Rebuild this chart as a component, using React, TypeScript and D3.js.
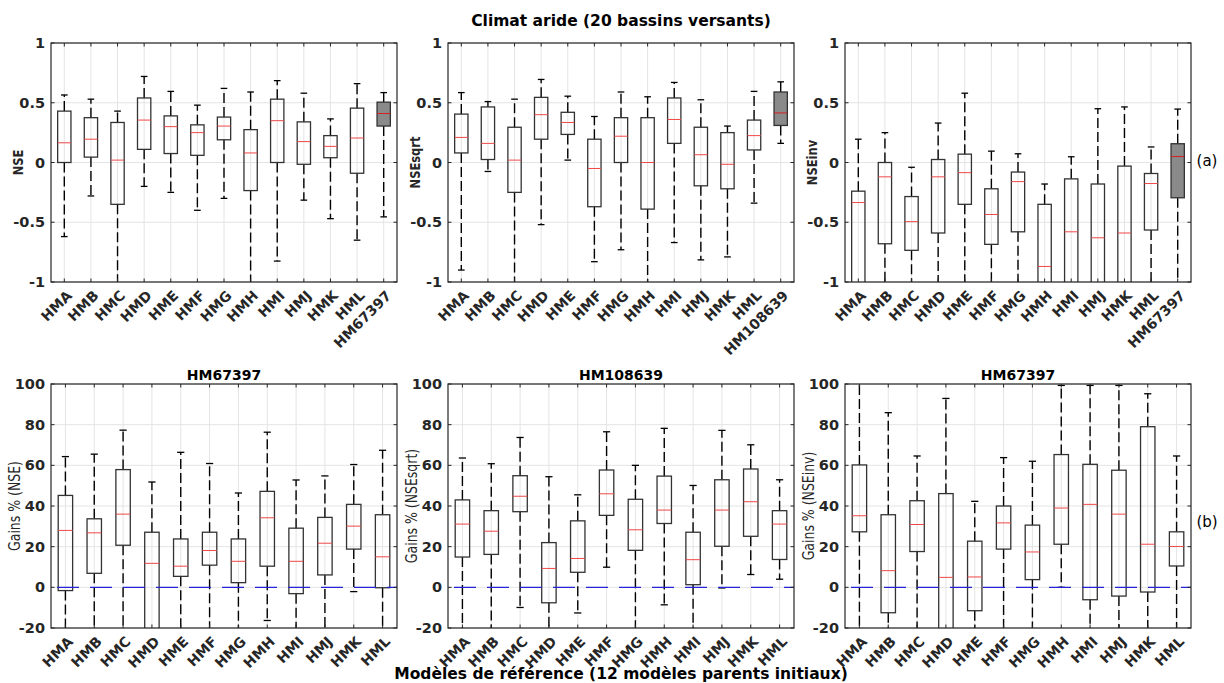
import React from 'react';
import * as d3 from 'd3';

// five-number summaries: [lower whisker, q1, median, q3, upper whisker]
// values outside the axis range are clipped by the panel (they run past the frame in the original)
type Stat = [number, number, number, number, number];

const refModels = ['HMA', 'HMB', 'HMC', 'HMD', 'HME', 'HMF', 'HMG', 'HMH', 'HMI', 'HMJ', 'HMK', 'HML'];
const catsNse = [...refModels, 'HM67397'];
const catsSqrt = [...refModels, 'HM108639'];
const catsInv = [...refModels, 'HM67397'];

const nseStats: Stat[] = [
    [-0.62, 0.0, 0.165, 0.43, 0.565],
    [-0.28, 0.045, 0.195, 0.375, 0.53],
    [-1.2, -0.35, 0.02, 0.335, 0.43],
    [-0.2, 0.11, 0.355, 0.54, 0.72],
    [-0.25, 0.075, 0.3, 0.39, 0.595],
    [-0.4, 0.06, 0.25, 0.315, 0.48],
    [-0.3, 0.19, 0.305, 0.38, 0.62],
    [-1.2, -0.235, 0.08, 0.275, 0.59],
    [-0.825, 0.0, 0.35, 0.53, 0.685],
    [-0.315, -0.015, 0.175, 0.34, 0.58],
    [-0.47, 0.04, 0.135, 0.225, 0.365],
    [-0.65, -0.09, 0.205, 0.455, 0.66],
    [-0.455, 0.305, 0.41, 0.505, 0.585],
];

const nseSqrtStats: Stat[] = [
    [-0.9, 0.08, 0.21, 0.405, 0.585],
    [-0.075, 0.025, 0.16, 0.465, 0.51],
    [-1.2, -0.25, 0.02, 0.295, 0.53],
    [-0.52, 0.195, 0.4, 0.545, 0.695],
    [0.02, 0.235, 0.335, 0.42, 0.555],
    [-0.83, -0.37, -0.05, 0.195, 0.385],
    [-0.73, 0.0, 0.22, 0.375, 0.59],
    [-1.2, -0.39, 0.0, 0.375, 0.55],
    [-0.67, 0.16, 0.36, 0.54, 0.67],
    [-0.815, -0.195, 0.065, 0.295, 0.525],
    [-0.79, -0.22, -0.015, 0.25, 0.305],
    [-0.34, 0.105, 0.225, 0.355, 0.595],
    [0.16, 0.31, 0.415, 0.59, 0.675],
];

const nseInvStats: Stat[] = [
    [-1.5, -1.2, -0.335, -0.24, 0.195],
    [-1.5, -0.68, -0.12, 0.0, 0.25],
    [-1.5, -0.735, -0.495, -0.285, -0.04],
    [-1.5, -0.59, -0.12, 0.025, 0.33],
    [-1.5, -0.35, -0.085, 0.07, 0.58],
    [-1.5, -0.685, -0.435, -0.22, 0.095],
    [-1.5, -0.58, -0.16, -0.08, 0.073],
    [-1.5, -1.2, -0.87, -0.35, -0.18],
    [-1.5, -1.2, -0.58, -0.137, 0.048],
    [-1.5, -1.2, -0.63, -0.18, 0.45],
    [-1.5, -1.2, -0.59, -0.03, 0.465],
    [-1.5, -0.565, -0.176, -0.092, 0.13],
    [-1.5, -0.295, 0.05, 0.157, 0.447],
];

const gainNseStats: Stat[] = [
    [-30, -1.6, 28, 45.2, 64.3],
    [-30, 6.9, 26.8, 33.7, 65.5],
    [-30, 20.7, 36, 57.9, 77.3],
    [-30, -25, 11.8, 27.1, 51.8],
    [-30, 5.4, 10.4, 23.8, 66.4],
    [-30, 10.9, 18.1, 27.1, 60.9],
    [-30, 2.3, 12.8, 23.8, 46.4],
    [-16.3, 10.4, 34.2, 47.2, 76.3],
    [-30, -3.1, 12.8, 29.1, 52.8],
    [-30, 6.1, 21.7, 34.4, 54.8],
    [-2.1, 18.8, 30.1, 40.8, 60.4],
    [-30, -0.2, 15, 35.7, 67.4],
];

const gainSqrtStats: Stat[] = [
    [-30, 14.9, 31.1, 43, 63.6],
    [-30, 16.2, 27.6, 37.7, 60.8],
    [-9.9, 37.2, 44.8, 54.9, 73.7],
    [-30, -7.6, 9.3, 22, 54.4],
    [-12.6, 7.4, 14.2, 32.7, 45.5],
    [9.9, 35.4, 46, 57.7, 76.5],
    [-30, 18.2, 28.3, 43.3, 60],
    [-8.6, 31.4, 38, 54.7, 78.2],
    [-30, 1.3, 13.6, 27.1, 50.1],
    [-0.3, 20.2, 38, 52.9, 77.2],
    [6.3, 25.1, 42.1, 58.2, 70.1],
    [4, 13.7, 31.1, 37.7, 52.9],
];

const gainInvStats: Stat[] = [
    [-30, 27.3, 35.2, 60.2, 101],
    [-30, -12.5, 8.2, 35.7, 85.9],
    [-30, 17.6, 30.9, 42.6, 64.6],
    [-30, -25, 4.9, 46.1, 92.9],
    [-30, -11.5, 5.1, 22.7, 42.3],
    [-30, 18.8, 31.7, 40, 63.8],
    [-30, 3.8, 17.4, 30.6, 62],
    [0, 21.2, 39, 65.3, 99.3],
    [-30, -6.1, 40.8, 60.5, 99.3],
    [-30, -4.3, 36, 57.6, 99.3],
    [-30, -2.3, 21.2, 79, 95.2],
    [-30, 10.5, 20.1, 27.3, 64.6],
];

const nseTicks = [-1, -0.5, 0, 0.5, 1];
const gainTicks = [-20, 0, 20, 40, 60, 80, 100];

const FONT = '"DejaVu Sans", sans-serif';
const FRAME = '#262626';
const GRID = '#e4e4e4';

type PanelProps = {
    id: string;
    left: number;
    top: number;
    width: number;
    height: number;
    cats: string[];
    stats: Stat[];
    domain: [number, number];
    ticks: number[];
    yLabel: string;
    yLabelBold: boolean;
    yLabelSize: number;
    yLabelOffset: number;
    title?: string;
    highlightLast?: boolean;
    zeroLine?: boolean;
};

const BoxPanel: React.FC<PanelProps> = (p) => {
    const x = d3.scaleLinear().domain([0.5, p.cats.length + 0.5]).range([0, p.width]);
    const y = d3.scaleLinear().domain(p.domain).range([p.height, 0]);
    const step = x(2) - x(1);
    const bw = step * 0.5;
    const cw = bw * 0.5;
    const tk = 3.5;

    return (
        <g transform={`translate(${p.left},${p.top})`}>
            <defs>
                <clipPath id={p.id}>
                    <rect x={0} y={0} width={p.width} height={p.height} />
                </clipPath>
            </defs>
            <rect x={0} y={0} width={p.width} height={p.height} fill="#fff" />
            {/* grid */}
            {p.ticks.map(t => (
                <line key={'gy' + t} x1={0} x2={p.width} y1={y(t)} y2={y(t)} stroke={GRID} strokeWidth={1} />
            ))}
            {p.cats.map((c, i) => (
                <line key={'gx' + c + i} x1={x(i + 1)} x2={x(i + 1)} y1={0} y2={p.height} stroke={GRID} strokeWidth={1} />
            ))}

            <g clipPath={`url(#${p.id})`}>
                {p.stats.map((s, i) => {
                    const cx = x(i + 1);
                    const [lo, q1, med, q3, hi] = s;
                    const ref = p.highlightLast && i === p.stats.length - 1;
                    return (
                        <g key={'b' + i}>
                            <line x1={cx} x2={cx} y1={y(q3)} y2={y(hi)} stroke="#000" strokeWidth={1.4} strokeDasharray="10,4" />
                            <line x1={cx} x2={cx} y1={y(q1)} y2={y(lo)} stroke="#000" strokeWidth={1.4} strokeDasharray="10,4" />
                            <line x1={cx - cw / 2} x2={cx + cw / 2} y1={y(hi)} y2={y(hi)} stroke="#000" strokeWidth={1.3} />
                            <line x1={cx - cw / 2} x2={cx + cw / 2} y1={y(lo)} y2={y(lo)} stroke="#000" strokeWidth={1.3} />
                            <rect x={cx - bw / 2} y={y(q3)} width={bw} height={y(q1) - y(q3)}
                                fill={ref ? '#8a8a8a' : 'none'} stroke="#333" strokeWidth={1.3} />
                            <line x1={cx - bw / 2} x2={cx + bw / 2} y1={y(med)} y2={y(med)} stroke={ref ? '#d42020' : '#f04848'} strokeWidth={1} />
                        </g>
                    );
                })}
                {p.zeroLine && (
                    <line x1={0} x2={p.width} y1={y(0)} y2={y(0)} stroke="#2424d8" strokeWidth={1.2}
                        strokeDasharray="22,11" strokeDashoffset={-6} />
                )}
            </g>

            {/* frame and ticks */}
            <rect x={0} y={0} width={p.width} height={p.height} fill="none" stroke={FRAME} strokeWidth={1.2} />
            {p.cats.map((c, i) => (
                <g key={'tx' + c + i}>
                    <line x1={x(i + 1)} x2={x(i + 1)} y1={p.height} y2={p.height - tk} stroke={FRAME} />
                    <line x1={x(i + 1)} x2={x(i + 1)} y1={0} y2={tk} stroke={FRAME} />
                </g>
            ))}
            {p.ticks.map(t => (
                <g key={'ty' + t}>
                    <line x1={0} x2={tk} y1={y(t)} y2={y(t)} stroke={FRAME} />
                    <line x1={p.width} x2={p.width - tk} y1={y(t)} y2={y(t)} stroke={FRAME} />
                    <text x={-6} y={y(t)} textAnchor="end" dominantBaseline="central"
                        fontSize={14.5} fontWeight="bold" fill="#262626">{String(t)}</text>
                </g>
            ))}
            {p.cats.map((c, i) => (
                <text key={'lx' + c + i} transform={`translate(${x(i + 1) + 5},${p.height + 11}) rotate(-45)`}
                    textAnchor="end" dominantBaseline="central" fontSize={14} fontWeight="bold" fill="#262626">{c}</text>
            ))}
            {/* the original figure is horizontally stretched, so vertical labels get a wider glyph */}
            <text transform={`translate(${-p.yLabelOffset},${p.height / 2}) scale(1.25,1) rotate(-90)`} textAnchor="middle"
                dominantBaseline="central" fontSize={p.yLabelSize} fontWeight={p.yLabelBold ? 'bold' : 'normal'} fill="#262626">
                {p.yLabel}
            </text>
            {p.title && (
                <text x={p.width / 2} y={-4} textAnchor="middle" fontSize={14} fontWeight="bold" fill="#000">{p.title}</text>
            )}
        </g>
    );
};

const colX = [51, 448, 845];
const PW = 346;

export default function App() {
    const top = { top: 43, height: 239, domain: [-1, 1] as [number, number], ticks: nseTicks, yLabelBold: true, yLabelSize: 11.5, yLabelOffset: 33, highlightLast: true };
    const bot = { top: 384, height: 244, domain: [-20, 100] as [number, number], ticks: gainTicks, yLabelBold: false, yLabelSize: 12.5, yLabelOffset: 37, zeroLine: true };

    return (
        <svg width={1224} height={683} style={{ position: 'absolute', left: 0, top: 0 }} fontFamily={FONT}>
            <rect width={1224} height={683} fill="#fff" />
            <text x={621} y={26} textAnchor="middle" fontSize={15.5} fontWeight="bold" fill="#000">
                Climat aride (20 bassins versants)
            </text>

            <BoxPanel id="c1" left={colX[0]} width={PW} cats={catsNse} stats={nseStats} yLabel="NSE" {...top} />
            <BoxPanel id="c2" left={colX[1]} width={PW} cats={catsSqrt} stats={nseSqrtStats} yLabel="NSEsqrt" {...top} />
            <BoxPanel id="c3" left={colX[2]} width={PW} cats={catsInv} stats={nseInvStats} yLabel="NSEinv" {...top} />

            <BoxPanel id="c4" left={colX[0]} width={PW} cats={refModels} stats={gainNseStats} yLabel="Gains % (NSE)" title="HM67397" {...bot} />
            <BoxPanel id="c5" left={colX[1]} width={PW} cats={refModels} stats={gainSqrtStats} yLabel="Gains % (NSEsqrt)" title="HM108639" {...bot} />
            <BoxPanel id="c6" left={colX[2]} width={PW} cats={refModels} stats={gainInvStats} yLabel="Gains % (NSEinv)" title="HM67397" {...bot} />

            <text x={1207} y={161} textAnchor="middle" dominantBaseline="central" fontSize={15} fill="#000">(a)</text>
            <text x={1207} y={522} textAnchor="middle" dominantBaseline="central" fontSize={15} fill="#000">(b)</text>

            <text x={621} y={679} textAnchor="middle" fontSize={15.5} fontWeight="bold" fill="#000">
                Modèles de référence (12 modèles parents initiaux)
            </text>
        </svg>
    );
}
